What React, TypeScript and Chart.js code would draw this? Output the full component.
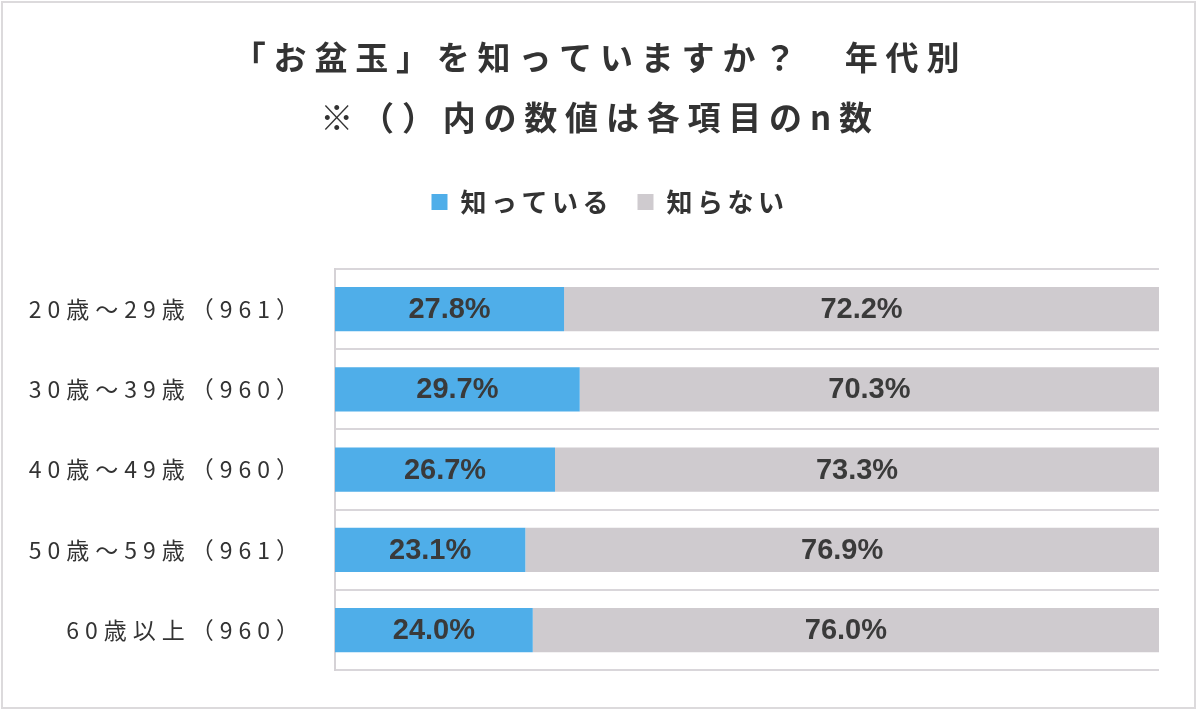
import React, { useEffect, useRef } from 'react';
import { Chart, registerables } from 'chart.js';

Chart.register(...registerables);

const categories = ['20歳～29歳（961）', '30歳～39歳（960）', '40歳～49歳（960）', '50歳～59歳（961）', '60歳以上（960）'];
const knowValues = [27.8, 29.7, 26.7, 23.1, 24.0];
const dontKnowValues = [72.2, 70.3, 73.3, 76.9, 76.0];
const seriesNames = ['知っている', '知らない'];
const titleLines = ['「お盆玉」を知っていますか？　年代別', '※（）内の数値は各項目のn数'];

const BLUE = '#4faee9';
const GRAY = '#cfcbcf';
const TEXT = '#333333';
const LINE = '#d9d6da';
const JP = '"Noto Sans CJK JP", "Noto Sans", sans-serif';

function patch(obj: any, methods: string[], spacing: string, dx = 0) {
  if (!obj) return;
  methods.forEach((m) => {
    const flag = '__ls_' + m;
    if (obj[flag]) return;
    const orig = obj[m];
    if (typeof orig !== 'function') return;
    const isDraw = m !== 'fit';
    obj[m] = function (...args: any[]) {
      const c = this.ctx;
      c.save();
      c.letterSpacing = spacing;
      if (isDraw && dx) c.translate(dx, 0);
      const r = orig.apply(this, args);
      c.restore();
      return r;
    };
    obj[flag] = true;
  });
}

const spacingPlugin = {
  id: 'letterSpacingPatch',
  beforeUpdate(chart: any) {
    patch(chart.titleBlock, ['draw'], '7.8px');
    patch(chart.legend, ['fit', 'draw'], '4.5px', 10);
  },
  beforeDraw(chart: any) {
    const y = chart.scales.y;
    if (y && !y.__noclip) {
      y._computeLabelArea = () => undefined;
      y.__noclip = true;
    }
    patch(y, ['drawLabels'], '6px');
  },
};

const frame = {
  id: 'frame',
  beforeDraw(chart: any) {
    const ctx = chart.ctx;
    ctx.save();
    ctx.fillStyle = '#ffffff';
    ctx.fillRect(0, 0, chart.width, chart.height);
    ctx.strokeStyle = '#dcdadc';
    ctx.lineWidth = 2;
    ctx.strokeRect(2, 2, 1193, 706);
    ctx.restore();
  },
};

const dataLabels = {
  id: 'dataLabels',
  afterDatasetsDraw(chart: any) {
    const ctx = chart.ctx;
    ctx.save();
    ctx.font = 'bold 29px "Liberation Sans", Arial, sans-serif';
    ctx.fillStyle = '#3a3a3a';
    ctx.textAlign = 'center';
    ctx.textBaseline = 'middle';
    chart.data.datasets.forEach((ds: any, di: number) => {
      const meta = chart.getDatasetMeta(di);
      meta.data.forEach((el: any, i: number) => {
        const { x, y, base } = el.getProps(['x', 'y', 'base'], true);
        ctx.fillText(Number(ds.data[i]).toFixed(1) + '%', (x + base) / 2, y + 1);
      });
    });
    ctx.restore();
  },
};

export default function App() {
  const ref = useRef<HTMLCanvasElement | null>(null);
  useEffect(() => {
    if (!ref.current) return;
    const chart = new Chart(ref.current, {
      type: 'bar',
      data: {
        labels: categories,
        datasets: [
          { label: seriesNames[0], data: knowValues, backgroundColor: BLUE, borderWidth: 0, barPercentage: 0.55, categoryPercentage: 1 },
          { label: seriesNames[1], data: dontKnowValues, backgroundColor: GRAY, borderWidth: 0, barPercentage: 0.55, categoryPercentage: 1 },
        ],
      },
      options: {
        indexAxis: 'y',
        responsive: false,
        animation: false,
        layout: { padding: { left: 41, right: 41, top: 0, bottom: 43 } },
        plugins: {
          title: {
            display: true,
            text: titleLines,
            color: TEXT,
            font: { family: JP, size: 33, weight: 'bold', lineHeight: 60 / 33 },
            padding: { top: 27, bottom: 17.5 },
          },
          legend: {
            display: true,
            position: 'top',
            labels: {
              boxWidth: 16,
              boxHeight: 16,
              padding: 24.5,
              color: TEXT,
              font: { family: JP, size: 26, weight: 'bold' },
            },
          },
          tooltip: { enabled: false },
        },
        scales: {
          x: {
            position: 'top',
            stacked: true,
            min: 0,
            max: 100,
            ticks: { display: false },
            grid: { display: false },
            border: { display: false },
            afterFit: (s: any) => { s.height = 44; },
          },
          y: {
            stacked: true,
            ticks: { color: TEXT, font: { family: JP, size: 23 }, padding: 30 },
            grid: { color: LINE, lineWidth: 2, drawTicks: false, offset: true },
            border: { display: true, color: '#d5d2d6', width: 2 },
            afterFit: (s: any) => { s.width = 294; },
          },
        },
      },
      plugins: [spacingPlugin, frame, dataLabels],
    } as any);
    return () => chart.destroy();
  }, []);
  return (
    <div style={{ position: 'absolute', left: 0, top: 0, width: 1200, height: 714, background: '#fff' }}>
      <canvas ref={ref} width={1200} height={714} style={{ display: 'block' }} />
    </div>
  );
}
